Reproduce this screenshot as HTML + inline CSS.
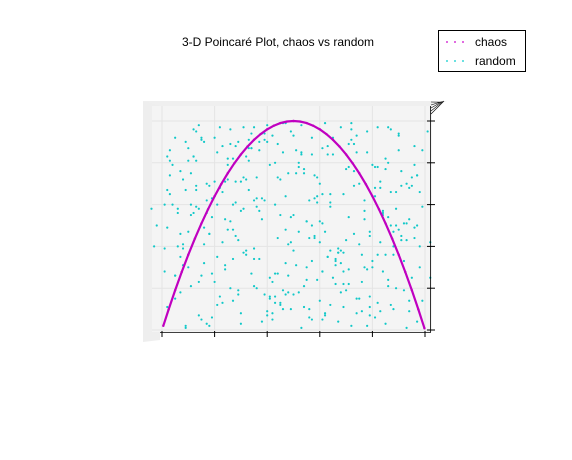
<!DOCTYPE html>
<html><head><meta charset="utf-8"><style>
body{margin:0;background:#fff;font-family:"Liberation Sans",sans-serif}
svg{display:block}
</style></head><body>
<svg id="chart" width="572" height="460">
<rect width="572" height="460" fill="#fff"/>
<text x="278" y="46" font-size="12" text-anchor="middle">3-D Poincaré Plot, chaos vs random</text>
<g>
<polygon points="143,101 160,103 160,340 143,342" fill="#eeeeee"/>
<polygon points="143,101 447,101 432,106 160,106" fill="#efefef"/>
<rect x="152" y="106" width="280" height="226" fill="#f4f4f4"/>
</g>
<g id="grid"></g>
<g id="random"></g>
<g id="chaos"></g>
<g id="axes"></g>
<g>
<rect x="438.5" y="30.5" width="87" height="41" fill="#fff" stroke="#000"/>
<g fill="#cc00cc"><circle cx="447" cy="42" r="0.9"/><circle cx="455" cy="42" r="0.9"/><circle cx="463" cy="42" r="0.9"/></g>
<g fill="#00cccc"><circle cx="447" cy="61" r="0.9"/><circle cx="455" cy="61" r="0.9"/><circle cx="463" cy="61" r="0.9"/></g>
<text x="475" y="46" font-size="12">chaos</text>
<text x="475" y="65" font-size="12">random</text>
</g>
</svg>
<script>
const xTicks=[0,0.2,0.4,0.6,0.8,1.0];
const yTicks=[0,0.2,0.4,0.6,0.8,1.0];
const chaosX=[0.005,0.025,0.05,0.075,0.1,0.125,0.15,0.175,0.2,0.225,0.25,0.275,0.3,0.325,0.35,0.375,0.4,0.425,0.45,0.475,0.5,0.525,0.55,0.575,0.6,0.625,0.65,0.675,0.7,0.725,0.75,0.775,0.8,0.825,0.85,0.875,0.9,0.925,0.95,0.975,0.998];
const chaosY=[0.02,0.0975,0.19,0.2775,0.36,0.4375,0.51,0.5775,0.64,0.6975,0.75,0.7975,0.84,0.8775,0.91,0.9375,0.96,0.9775,0.99,0.9975,1,0.9975,0.99,0.9775,0.96,0.9375,0.91,0.8775,0.84,0.7975,0.75,0.6975,0.64,0.5775,0.51,0.4375,0.36,0.2775,0.19,0.0975,0.008];
const randX=[0.12,0.87,0.45,0.33,0.66,0.02,0.91,0.54,0.27,0.78,0.15,0.39,0.71,0.96,0.08,0.59,0.22,0.84,0.47,0.31,0.63,0.05,0.93,0.18,0.74,0.42,0.56,0.29,0.81,0.11,0.68,0.37,0.99,0.24,0.52,0.86,0.14,0.61,0.35,0.77,0.03,0.49,0.89,0.21,0.65,0.43,0.97,0.16,0.72,0.34,0.58,0.07,0.83,0.26,0.51,0.94,0.19,0.69,0.41,0.79,0.09,0.55,0.32,0.88,0.13,0.62,0.46,0.98,0.23,0.75,0.38,0.57,0.01,0.85,0.28,0.67,0.44,0.92,0.17,0.73,0.36,0.53,0.06,0.82,0.25,0.64,0.48,0.95,0.2,0.7,0.4,0.6,0.1,0.8,0.3,0.5,0.9,0.04,0.76,0.43,
0.58,0.17,0.83,0.29,0.71,0.12,0.96,0.35,0.64,0.22,0.88,0.47,0.05,0.53,0.79,0.31,0.67,0.14,0.92,0.39,0.61,0.08,0.85,0.27,0.73,0.44,1.01,0.19,0.56,0.81,0.33,0.69,0.11,0.94,0.41,0.62,0.24,0.87,0.49,0.02,0.76,0.37,0.59,0.15,0.9,0.28,0.66,0.45,0.99,0.21,-0.03,0.52,0.78,0.34,0.63,0.09,0.86,0.26,0.71,0.46,0.97,0.18,0.55,0.82,0.36,0.68,0.13,0.91,0.42,0.6,1.02,0.23,0.84,0.5,0.07,0.74,0.38,0.57,0.16,0.89,0.3,0.65,0.48,0.95,0.2,0.72,-0.04,0.54,0.8,0.32,0.69,0.1,0.93,0.4,0.61,0.25,0.86,0.47,0.03,0.77,
0.06,0.34,0.72,0.19,0.58,0.93,0.41,0.27,0.85,0.13,0.66,0.49,0.02,0.79,0.36,0.61,0.24,0.97,0.45,0.11,0.7,0.53,0.88,0.31,0.15,0.64,0.42,0.82,0.07,0.57,0.26,0.94,0.38,0.75,0.18,0.5,0.68,0.03,0.86,0.33,0.62,0.21,0.99,0.46,0.1,0.73,0.29,0.55,0.9,0.16,0.4,0.81,0.63,0.05,0.35,0.77,0.52,0.23,0.96,0.44,0.69,0.12,0.87,0.3,0.59,0.08,0.74,0.48,0.2,0.91,0.37,0.65,0.01,0.83,0.54,0.27,0.71,0.14,0.43,0.98,0.6,0.32,0.78,0.09,0.51,0.25,0.89,0.39,0.67,0.17,0.56,0.04,0.84,0.47,0.28,0.76,0.13,0.61,0.92,0.35,
0.44,0.81,0.09,0.63,0.28,0.95,0.52,0.17,0.74,0.37,0.86,0.02,0.59,0.23,0.68,0.41,0.91,0.14,0.55,0.78,0.32,0.05,0.7,0.47,0.98,0.2,0.64,0.38,0.83,0.11,0.57,0.29,0.89,0.43,0.72,0.07,0.5,0.25,0.94,0.35,0.61,0.16,0.79,0.46,0.03,0.67,0.31,0.87,0.53,0.22,0.75,0.12,0.42,0.97,0.6,0.34,0.8,0.08,0.56,0.27,0.9,0.48,0.18,0.71,0.39,0.64,0.01,0.85,0.51,0.24,0.77,0.15,0.45,0.93,0.58,0.3,0.69,0.1,0.82,0.4,0.62,0.19,0.96,0.54,0.26,0.73,0.06,0.49,0.88,0.33,0.66,0.13,0.79,0.43,0.21,1.02,0.57,0.36,0.84,-0.02];
const randY=[0.83,0.12,0.55,0.91,0.34,0.67,0.76,0.21,0.48,0.95,0.05,0.62,0.29,0.88,0.41,0.73,0.16,0.57,0.99,0.37,0.84,0.26,0.51,0.69,0.08,0.93,0.44,0.19,0.78,0.6,0.32,0.86,0.14,0.71,0.47,0.97,0.23,0.65,0.39,0.53,0.81,0.1,0.58,0.35,0.92,0.27,0.74,0.49,0.02,0.87,0.63,0.18,0.42,0.96,0.31,0.68,0.54,0.11,0.79,0.45,0.9,0.24,0.72,0.36,0.59,0.07,0.85,0.4,0.66,0.15,0.94,0.5,0.28,0.77,0.61,0.04,0.89,0.33,0.7,0.46,0.2,0.98,0.56,0.13,0.82,0.38,0.75,0.25,0.64,0.43,0.09,0.52,0.87,0.3,0.71,0.17,0.93,0.6,0.36,0.8,
0.45,0.03,0.68,0.9,0.22,0.56,0.79,0.34,0.12,0.97,0.47,0.64,0.26,0.85,0.07,0.73,0.39,0.58,0.19,0.91,0.51,0.31,0.82,0.14,0.69,0.44,0.95,0.27,0.62,0.06,0.87,0.37,0.75,0.53,0.16,0.99,0.29,0.66,0.42,0.83,0.09,0.57,0.24,0.92,0.48,0.71,0.33,0.13,0.86,0.6,0.4,0.78,0.02,0.94,0.35,0.67,0.21,0.52,0.89,0.1,0.74,0.46,0.3,0.97,0.59,0.18,0.81,0.43,0.05,0.7,0.25,0.88,0.55,0.38,0.76,0.15,0.63,0.92,0.32,0.5,0.08,0.84,0.41,0.69,0.23,0.96,0.58,0.11,0.79,0.36,0.65,0.47,0.01,0.9,0.28,0.72,0.54,0.17,0.86,0.62,
0.58,0.27,0.91,0.06,0.74,0.43,0.15,0.82,0.36,0.67,0.22,0.95,0.49,0.11,0.63,0.87,0.31,0.04,0.72,0.55,0.19,0.84,0.4,0.97,0.26,0.61,0.08,0.78,0.46,0.33,0.89,0.14,0.53,0.7,0.02,0.93,0.38,0.65,0.24,0.81,0.47,0.12,0.59,0.99,0.3,0.76,0.17,0.52,0.86,0.41,0.07,0.68,0.35,0.92,0.21,0.57,0.8,0.13,0.44,0.73,0.28,0.96,0.5,0.03,0.64,0.39,0.85,0.18,0.71,0.45,0.9,0.25,0.6,0.09,0.77,0.34,0.54,0.98,0.16,0.66,0.42,0.83,0.29,0.01,0.75,0.48,0.2,0.94,0.37,0.62,0.1,0.79,0.56,0.32,0.88,0.23,0.69,0.05,0.51,0.97,
0.27,0.64,0.02,0.88,0.45,0.73,0.18,0.56,0.93,0.34,0.8,0.11,0.61,0.42,0.97,0.25,0.69,0.07,0.52,0.85,0.38,0.15,0.77,0.48,0.3,0.92,0.59,0.04,0.71,0.21,0.84,0.43,0.66,0.13,0.99,0.35,0.55,0.79,0.09,0.62,0.28,0.9,0.47,0.19,0.74,0.37,0.58,0.96,0.01,0.68,0.41,0.83,0.23,0.5,0.14,0.87,0.33,0.72,0.06,0.6,0.94,0.26,0.46,0.78,0.17,0.65,0.39,0.03,0.86,0.53,0.3,0.91,0.12,0.7,0.44,0.57,0.22,0.81,0.36,0.98,0.08,0.63,0.49,0.75,0.2,0.89,0.4,0.54,0.1,0.67,0.31,0.95,0.16,0.6,0.85,0.42,0.05,0.73,0.28,0.5];
const X0=162,XW=263,Y0=330,YH=209;
const sx=v=>X0+v*XW, sy=v=>Y0-v*YH;
const NS='http://www.w3.org/2000/svg';
function mk(tag,attrs,parent){const e=document.createElementNS(NS,tag);for(const k in attrs)e.setAttribute(k,attrs[k]);parent.appendChild(e);return e;}
const grid=document.getElementById('grid'),axes=document.getElementById('axes');
xTicks.forEach(t=>{
  const l=mk('line',{x1:sx(t),x2:sx(t),y1:106,y2:332,stroke:'#e4e4e4','stroke-width':1},grid);
  
  
  const k=mk('line',{x1:sx(t),x2:sx(t),y1:331,y2:337,stroke:'#000','stroke-width':1},axes);
  
  
});
yTicks.forEach(t=>{
  const l=mk('line',{x1:152,x2:432,y1:sy(t),y2:sy(t),stroke:'#e4e4e4','stroke-width':1},grid);
  
  
  const k=mk('line',{x1:427,x2:435,y1:sy(t),y2:sy(t),stroke:'#000','stroke-width':1},axes);
  
  
});
mk('line',{x1:160,x2:431,y1:332.5,y2:332.5,stroke:'#000','stroke-width':0.8},axes);
mk('line',{x1:430.5,x2:430.5,y1:106,y2:332,stroke:'#000','stroke-width':0.8},axes);
[0,1,2,3,4].forEach(i=>mk('line',{x1:431,x2:444-i,y1:114-i*3,y2:101+i*0.3,stroke:'#000','stroke-width':0.6},axes));
const rg=document.getElementById('random');
randX.forEach((x,i)=>{
  const c=mk('circle',{cx:sx(x),cy:sy(randY[i]),r:1.1,fill:'#11c8c8'},rg);
  
  
});
const cg=document.getElementById('chaos');
const p=mk('polyline',{points:chaosX.map((x,i)=>sx(x)+','+sy(chaosY[i])).join(' '),fill:'none',stroke:'#c000c0','stroke-width':2.2},cg);


chaosX.forEach((x,i)=>{
  const c=mk('circle',{cx:sx(x),cy:sy(chaosY[i]),r:1.2,fill:'#c000c0'},cg);
  
  
});
</script>
</body></html>
